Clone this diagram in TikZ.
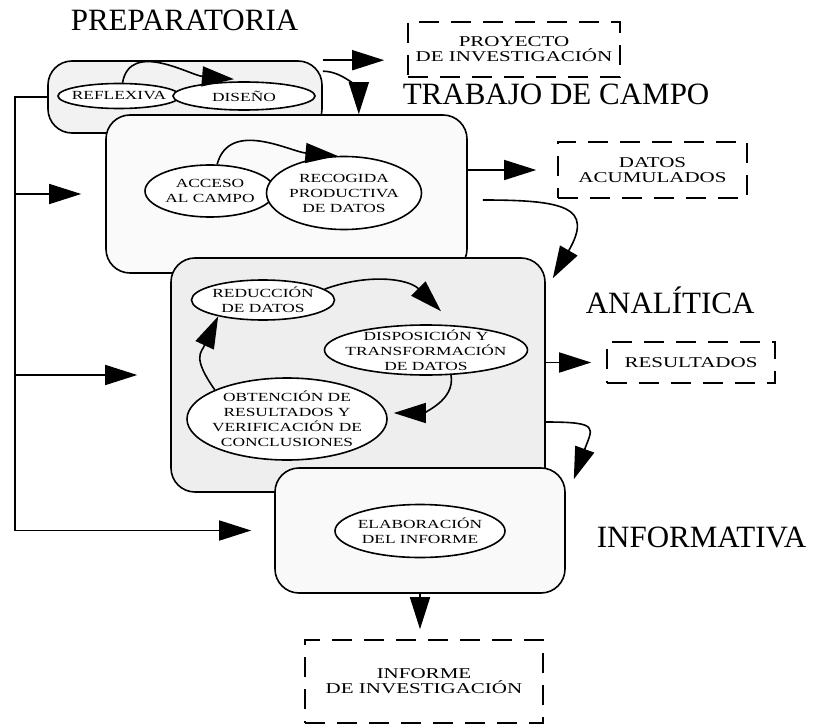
\documentclass[tikz,border=0pt]{standalone}
\usepackage{fontspec}
\setmainfont{Liberation Serif}
\newfontfamily\scanfont[FakeStretch=1.4]{Liberation Serif}
\usetikzlibrary{arrows.meta, shapes.geometric}

\begin{document}
\begin{tikzpicture}[x=0.5pt, y=-0.5pt, line width=0.8pt,
  arr/.style={-{Triangle[length=16pt, width=10pt]}},
  phase box/.style={draw, rounded corners=12pt, inner sep=0pt},
  task node/.style={draw, ellipse, fill=white, inner xsep=-8pt, inner ysep=-4pt, align=center, font=\scanfont\fontsize{6.2}{7.5}\selectfont},
  output node/.style={draw, dash pattern=on 10pt off 6pt, inner sep=0pt, align=center, font=\scanfont\fontsize{7.5}{7.6}\selectfont},
  title node/.style={anchor=base west, inner sep=0pt, font=\fontsize{15.5}{18}\selectfont}]
\useasboundingbox (0,0) rectangle (817,727);

% fases
\node [phase box, fill=gray!10, minimum width=137pt, minimum height=36pt] (prep) at (185,97) {};
\node [task node, minimum width=61pt, minimum height=12.5pt] (reflex) at (119,96) {REFLEXIVA};
\node [task node, minimum width=71pt, minimum height=14pt] (diseno) at (244,96) {DISEÑO};

\node [phase box, fill=gray!4, minimum width=180.5pt, minimum height=79pt] (campo) at (286.5,194) {};
\node [task node, minimum width=65pt, minimum height=26pt] (acceso) at (210,191) {ACCESO\\AL CAMPO};
\node [task node, minimum width=77.5pt, minimum height=36.5pt] (recogida) at (344,193) {RECOGIDA\\PRODUCTIVA\\DE DATOS};

\node [phase box, fill=gray!13, minimum width=187pt, minimum height=117pt] (analit) at (358,375) {};
\node [task node, minimum width=71.5pt, minimum height=20pt] (reduc) at (263,300) {REDUCCIÓN\\DE DATOS};
\node [task node, minimum width=101.5pt, minimum height=25pt] (dispo) at (426,350) {DISPOSICIÓN Y\\TRANSFORMACIÓN\\DE DATOS};
\node [task node, minimum width=100pt, minimum height=41pt] (obten) at (287,419) {OBTENCIÓN DE\\RESULTADOS Y\\VERIFICACIÓN DE\\CONCLUSIONES};

\node [phase box, fill=gray!5, minimum width=145pt, minimum height=62.5pt] (inform) at (420,530.5) {};
\node [task node, minimum width=85pt, minimum height=26.5pt] (elabor) at (420,531) {ELABORACIÓN\\DEL INFORME};

% productos
\node [output node, minimum width=106pt, minimum height=27.5pt] (proyecto) at (514,49.5) {PROYECTO\\DE INVESTIGACIÓN};
\node [output node, minimum width=94.5pt, minimum height=28pt] (datos) at (652.5,170) {DATOS\\ACUMULADOS};
\node [output node, minimum width=84pt, minimum height=20.5pt] (result) at (691,362.5) {RESULTADOS};
\node [output node, minimum width=119pt, minimum height=41.5pt] (informe) at (424,681.5) {INFORME\\DE INVESTIGACIÓN};

% titulos
\node [title node] (t prep) at (70,31) {PREPARATORIA};
\node [title node] (t campo) at (402,105) {TRABAJO DE CAMPO};
\node [title node] (t analit) at (585,313) {ANALÍTICA};
\node [title node] (t inform) at (596,547) {INFORMATIVA};

% flechas
\draw [arr] (reflex.75) to[out=80, in=175] ([xshift=-5pt, yshift=1pt]diseno.north);
\draw [arr] (acceso.75) to[out=75, in=175] (recogida.100);
\draw [arr] (reduc.10) to[out=20, in=135] ([xshift=7.5pt, yshift=6.5pt]dispo.north);
\draw [arr] (dispo.-45) to[out=-80, in=0] ([xshift=3pt, yshift=3pt]obten.east);
\draw [arr] (obten.158) to[out=125, in=245, looseness=1.4] (reduc.200);

\draw [arr, shorten >=11.5pt] (prep.north east) -- (prep.north east -| proyecto.west);
\draw [arr] ([yshift=-5.5pt]prep.north east) to[out=0, in=90] ([xshift=-54.5pt]campo.north east);
\draw [arr, shorten >=10.5pt] (campo.east |- datos.west) -- (datos.west);
\draw [arr] ([xshift=7.5pt, yshift=-3pt]campo.east) to[out=0, in=60, looseness=2] ([xshift=3.5pt, yshift=-10.5pt]analit.north east);
\draw [arr, shorten >=7.5pt] (analit.east |- result.west) -- (result.west);
\draw [arr] ([yshift=-23.5pt]analit.east) to[out=0, in=70, looseness=2.2] ([xshift=4pt, yshift=-6pt]inform.north east);
\draw [arr, shorten >=5pt] (inform.south) -- (inform.south |- informe.north);

% retorno
\coordinate (bus) at (15,0);
\draw [arr, shorten >=11.5pt] (prep.west) -- (prep.west -| bus) |- (inform.west);
\draw [arr, shorten >=12pt] (campo.west -| bus) -- (campo.west);
\draw [arr, shorten >=16.5pt] (analit.west -| bus) -- (analit.west);
\end{tikzpicture}
\end{document}
